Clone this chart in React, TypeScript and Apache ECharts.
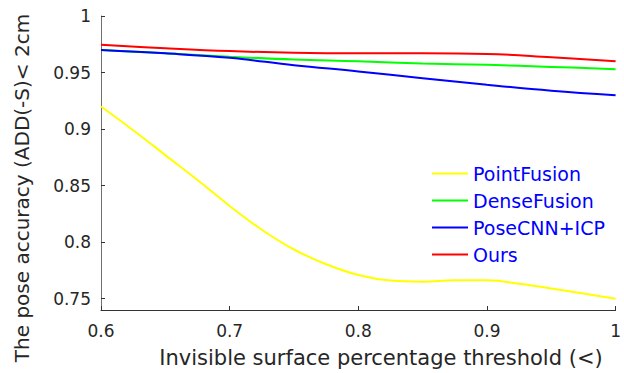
import React, { useEffect, useRef } from "react";
import * as echarts from "echarts";

const xCoarse = [0.6, 0.65, 0.7, 0.75, 0.8, 0.85, 0.9, 0.95, 1.0];
const xFine = [0.6, 0.625, 0.65, 0.675, 0.7, 0.725, 0.75, 0.775, 0.8, 0.825, 0.85, 0.875, 0.9, 0.925, 0.95, 0.975, 1.0];

const pointFusion = [0.92, 0.899, 0.877, 0.855, 0.832, 0.811, 0.7935, 0.7805, 0.771, 0.766, 0.765, 0.7663, 0.7662, 0.7633, 0.759, 0.7545, 0.75];
const denseFusion = [0.97, 0.967, 0.964, 0.9615, 0.96, 0.958, 0.9568, 0.955, 0.953];
const poseCNN = [0.97, 0.967, 0.963, 0.9565, 0.951, 0.945, 0.9392, 0.934, 0.93];
const ours = [0.9745, 0.9715, 0.969, 0.9675, 0.967, 0.967, 0.9665, 0.9635, 0.96];

const yTicks = [0.75, 0.8, 0.85, 0.9, 0.95, 1];
const seriesNames = ["PointFusion", "DenseFusion", "PoseCNN+ICP", "Ours"];
const seriesColors = ["#ffff00", "#00ff00", "#0000ff", "#ff0000"];

const FONT = "DejaVu Sans";

export default function App() {
  const ref = useRef<HTMLDivElement>(null);
  useEffect(() => {
    if (!ref.current) return;
    const chart = echarts.init(ref.current, null, { renderer: "svg" });
    const pair = (xs: number[], ys: number[]) => xs.map((x, i) => [x, ys[i]]);
    const datasets = [
      pair(xFine, pointFusion),
      pair(xCoarse, denseFusion),
      pair(xCoarse, poseCNN),
      pair(xCoarse, ours),
    ];
    chart.setOption({
      animation: false,
      backgroundColor: "#ffffff",
      grid: { left: 101, right: 3, top: 16, bottom: 63, containLabel: false },
      xAxis: {
        type: "value",
        min: 0.6,
        max: 1,
        interval: 0.1,
        axisLine: { show: true, lineStyle: { color: "#333333", width: 1 } },
        axisTick: { show: true, inside: true, length: 4, lineStyle: { color: "#333333" } },
        splitLine: { show: false },
        axisLabel: {
          margin: 12,
          color: "#262626",
          fontFamily: FONT,
          fontSize: 17,
          formatter: (v: number) => String(+v.toFixed(2)),
        },
      },
      yAxis: {
        type: "value",
        min: 0.74,
        max: 1,
        axisLine: { show: true, lineStyle: { color: "#707070", width: 1 } },
        axisTick: { show: true, inside: true, length: 4, customValues: yTicks, lineStyle: { color: "#333333" } },
        splitLine: { show: false },
        axisLabel: {
          margin: 10,
          color: "#262626",
          fontFamily: FONT,
          fontSize: 17,
          customValues: yTicks,
          formatter: (v: number) => String(+v.toFixed(2)),
        },
      },
      legend: {
        orient: "vertical",
        left: 432,
        top: 164,
        padding: 0,
        icon: "rect",
        itemWidth: 36,
        itemHeight: 2,
        itemGap: 8,
        textStyle: { color: "#0000ff", fontFamily: FONT, fontSize: 19, lineHeight: 19 },
        data: seriesNames.map((name, i) => ({ name, itemStyle: { color: seriesColors[i] } })),
      },
      series: seriesNames.map((name, i) => ({
        name,
        type: "line",
        data: datasets[i],
        smooth: 0.4,
        symbol: "none",
        color: seriesColors[i],
        lineStyle: { color: seriesColors[i], width: 2 },
      })),
      graphic: [
        {
          type: "text",
          x: 381,
          y: 358,
          style: {
            text: "Invisible surface percentage threshold (<)",
            fontFamily: FONT,
            fontSize: 21,
            fill: "#262626",
            align: "center",
            verticalAlign: "middle",
          },
        },
        {
          type: "text",
          x: 22,
          y: 188,
          rotation: Math.PI / 2,
          style: {
            text: "The pose accuracy (ADD(-S)< 2cm",
            fontFamily: FONT,
            fontSize: 20,
            fill: "#262626",
            align: "center",
            verticalAlign: "middle",
          },
        },
      ],
    });
    return () => chart.dispose();
  }, []);
  return (
    <div
      ref={ref}
      style={{ position: "absolute", left: 0, top: 0, width: 624, height: 373 }}
    />
  );
}
